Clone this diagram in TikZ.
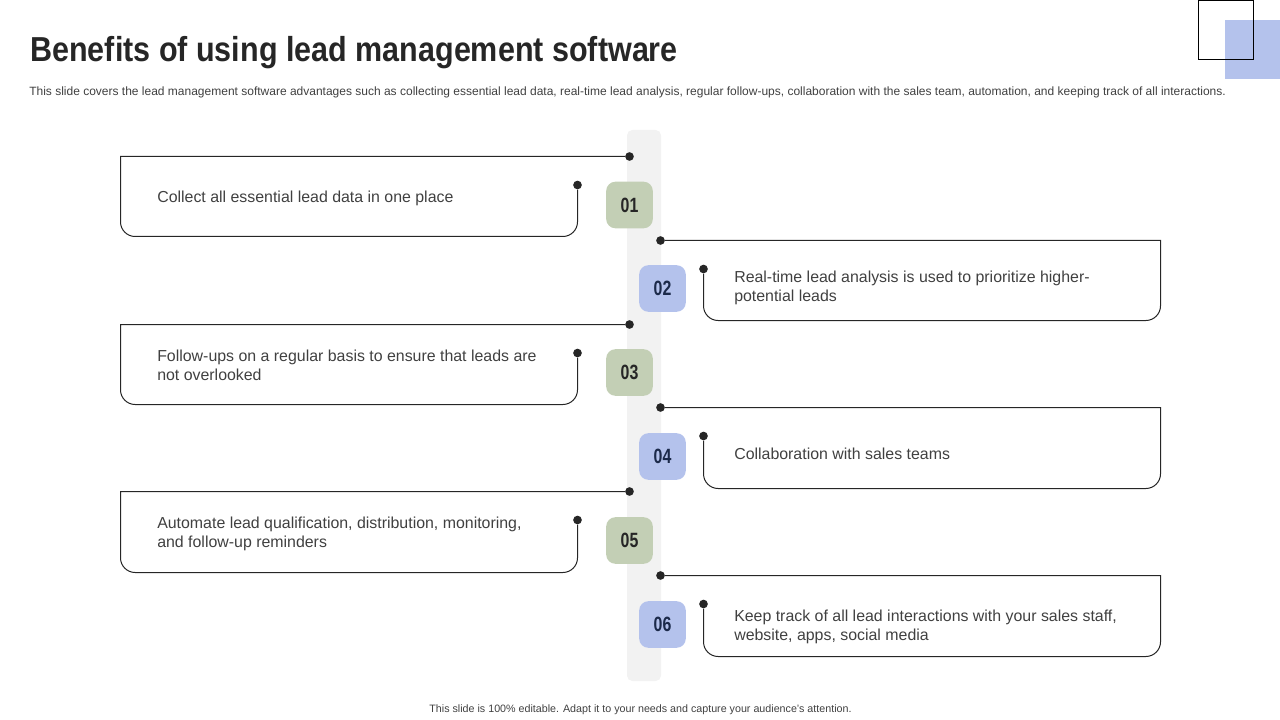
\documentclass[tikz,border=0pt]{standalone}
\usepackage{fontspec}
\setmainfont{Liberation Sans}
\newfontfamily\narrowfont[FakeStretch=0.88]{Liberation Sans}
\newfontfamily\badgefont[FakeStretch=0.77]{Liberation Sans}
\definecolor{barGray}{HTML}{F2F2F2}
\definecolor{sageFill}{HTML}{C3CFB5}
\definecolor{blueFill}{HTML}{B4C2EC}
\definecolor{inkDark}{HTML}{262626}
\definecolor{inkNavy}{HTML}{1C2A4A}
\definecolor{bodyText}{HTML}{404040}
\tikzset{
  dot/.style={circle,fill=inkDark,inner sep=0pt,minimum size=6.5pt},
  badgeleft/.style={rectangle,rounded corners=7pt,fill=sageFill,minimum size=35pt,inner sep=0pt,font=\badgefont\bfseries\fontsize{15.5}{15.5}\selectfont,text=inkDark},
  badgeright/.style={badgeleft,fill=blueFill,text=inkNavy},
  item/.style={anchor=west,align=left,inner sep=0pt,font=\fontsize{11.93}{14.2}\selectfont,text=bodyText},
  frame/.style={draw=inkDark,line width=0.75pt}
}
\begin{document}
\begin{tikzpicture}[x=0.75pt,y=-0.75pt]
  \useasboundingbox (0,0) rectangle (1280,720);
  % corner decoration
  \fill[blueFill] (1225,20) rectangle (1280,79);
  \draw[black,line width=0.9pt] (1198.5,0.5) rectangle (1253.5,59.5);
  % heading
  \node[anchor=west,inner sep=0pt,font=\narrowfont\bfseries\fontsize{26}{30}\selectfont,text=inkDark] (title) at (30,53) {Benefits of using lead management software};
  \node[anchor=west,inner sep=0pt,font=\fontsize{9}{11}\selectfont,text=bodyText] (subtitle) at (29,92) {This slide covers the lead management software advantages such as collecting essential lead data, real-time lead analysis, regular follow-ups, collaboration with the sales team, automation, and keeping track of all interactions.};
  % centre bar
  \fill[barGray,rounded corners=4pt] (627,130) rectangle (661,681);
  % left items
  \foreach \n/\top/\bot/\mid/\num in {a/156.5/236.5/205/01,c/324.5/404.5/372.5/03,e/491.5/572.5/540.5/05}{
    \node[dot] (\n start) at (629.5,\top) {};
    \node[dot] (\n end) at (577.5,\top+28.5) {};
    \node[badgeleft] (\n badge) at (629.5,\mid) {\num};
    \coordinate (\n nw) at (120.5,\top);
    \coordinate (\n sw) at (120.5,\bot);
    \coordinate (\n se) at (577.5,\bot);
    \draw[frame] (\n start) -- (\n nw) [rounded corners=11pt] -- (\n sw) -- (\n se) -- (\n end);
  }
  % right items
  \foreach \n/\top/\bot/\mid/\num in {b/240.5/320.5/288.5/02,d/407.5/488.5/456.5/04,f/575.5/656.5/624.5/06}{
    \node[dot] (\n start) at (660.5,\top) {};
    \node[dot] (\n end) at (703.5,\top+28.5) {};
    \node[badgeright] (\n badge) at (662.5,\mid) {\num};
    \coordinate (\n ne) at (1160.5,\top);
    \coordinate (\n se) at (1160.5,\bot);
    \coordinate (\n sw) at (703.5,\bot);
    \draw[frame] (\n start) -- (\n ne) [rounded corners=11pt] -- (\n se) -- (\n sw) -- (\n end);
  }
  \node[item] (a text) at (157,198.5) {Collect all essential lead data in one place};
  \node[item] (b text) at (734,287.5) {Real-time lead analysis is used to prioritize higher-\\potential leads};
  \node[item] (c text) at (157,365) {Follow-ups on a regular basis to ensure that leads are\\not overlooked};
  \node[item] (d text) at (734,453.5) {Collaboration with sales teams};
  \node[item] (e text) at (157,533.5) {Automate lead qualification, distribution, monitoring,\\and follow-up reminders};
  \node[item] (f text) at (734,626.5) {Keep track of all lead interactions with your sales staff,\\website, apps, social media};
  % footer
  \node[inner sep=0pt,font=\fontsize{8.03}{10}\selectfont,text=bodyText] (footer) at (640.5,709.5) {This slide is 100\% editable. Adapt it to your needs and capture your audience's attention.};
\end{tikzpicture}
\end{document}
